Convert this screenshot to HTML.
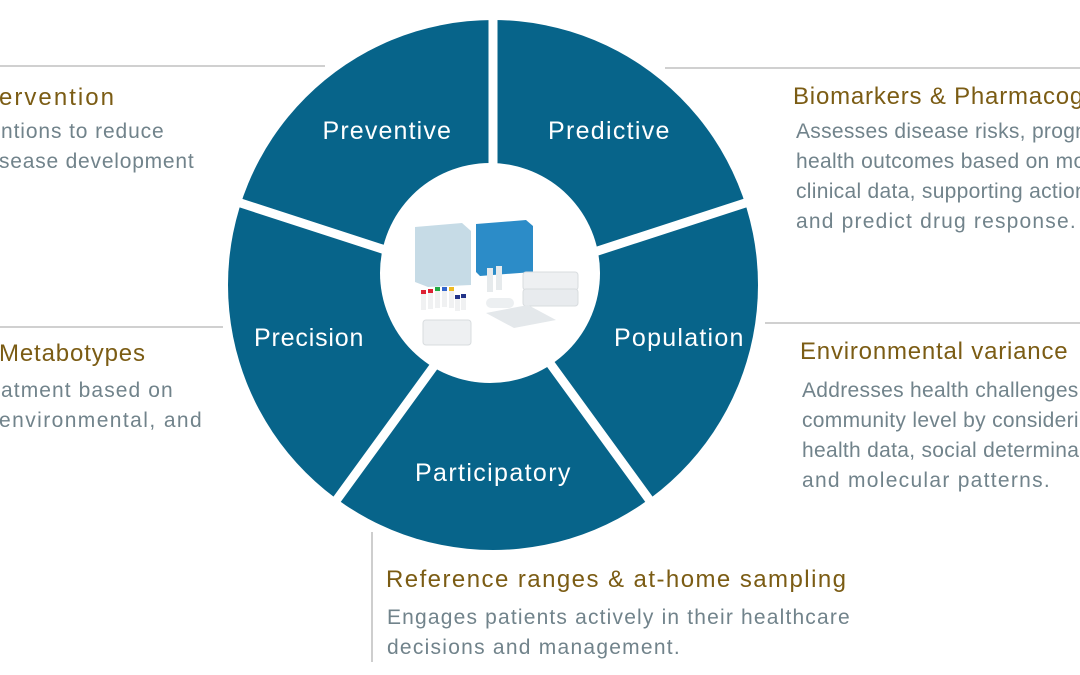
<!DOCTYPE html>
<html><head><meta charset="utf-8"><style>
html,body{margin:0;padding:0;background:#fff;width:1080px;height:675px;overflow:hidden}
svg{display:block}
.t{font-family:"Liberation Sans",sans-serif;fill:#7b5c14;font-size:24px}
.b{font-family:"Liberation Sans",sans-serif;fill:#71838b;font-size:21px;letter-spacing:0.3px}
.s{font-family:"Liberation Sans",sans-serif;fill:#fff;font-size:25px;letter-spacing:0.6px}
</style></head><body>
<svg width="1080" height="675" viewBox="0 0 1080 675" xmlns="http://www.w3.org/2000/svg">
<g stroke="#b4b4b4" stroke-width="1.3">
<line x1="0" y1="66" x2="325" y2="66"/>
<line x1="665" y1="68" x2="1080" y2="68"/>
<line x1="0" y1="327" x2="223" y2="327"/>
<line x1="765" y1="323" x2="1080" y2="323"/>
<line x1="372" y1="532" x2="372" y2="662"/>
</g>
<circle cx="493" cy="285" r="265" fill="#07648a"/>
<g stroke="#fff" stroke-width="9">
<line x1="493" y1="285" x2="493" y2="10"/>
<line x1="493" y1="285" x2="770" y2="195"/>
<line x1="493" y1="285" x2="664" y2="520"/>
<line x1="493" y1="285" x2="322" y2="520"/>
<line x1="493" y1="285" x2="216" y2="195"/>
</g>
<circle cx="490" cy="273" r="110" fill="#fff"/>
<polygon points="415,227 462,223 471,231 471,285 428,287 415,282" fill="#c6dbe6"/>
<polygon points="476,224 526,220 533,226 533,272 480,276 476,272" fill="#2c8cc8"/>
<rect x="523" y="272" width="55" height="18" rx="3" fill="#eef0f2" stroke="#d8dcdf"/>
<rect x="523" y="289" width="55" height="17" rx="3" fill="#e8ebee" stroke="#d8dcdf"/>
<rect x="423" y="320" width="48" height="25" rx="3" fill="#eef0f2" stroke="#d8dcdf"/>
<polygon points="486,313 528,305 556,320 514,328" fill="#e4e8eb"/>
<rect x="486" y="298" width="28" height="10" rx="5" fill="#eceff1"/>
<rect x="487" y="268" width="6" height="24" fill="#e6eaec"/>
<rect x="496" y="266" width="6" height="24" fill="#e6eaec"/>
<g fill="#f0f1f2"><rect x="421" y="292" width="5" height="18"/><rect x="428" y="291" width="5" height="18"/><rect x="435" y="290" width="5" height="18"/><rect x="442" y="289" width="5" height="18"/><rect x="449" y="290" width="5" height="18"/><rect x="455" y="297" width="5" height="14"/><rect x="461" y="296" width="5" height="14"/></g>
<g><rect x="421" y="290" width="5" height="4" fill="#d23"/><rect x="428" y="289" width="5" height="4" fill="#d23"/><rect x="435" y="287" width="5" height="4" fill="#2a4"/><rect x="442" y="287" width="5" height="4" fill="#36c"/><rect x="449" y="287" width="5" height="4" fill="#eb2"/><rect x="455" y="295" width="5" height="4" fill="#238"/><rect x="461" y="294" width="5" height="4" fill="#238"/></g>
<text class="s" x="387" y="139" text-anchor="middle" textLength="129">Preventive</text>
<text class="s" x="609" y="139" text-anchor="middle" textLength="122">Predictive</text>
<text class="s" x="309" y="346" text-anchor="middle" textLength="110">Precision</text>
<text class="s" x="679" y="346" text-anchor="middle" textLength="130">Population</text>
<text class="s" x="493" y="481" text-anchor="middle" textLength="156">Participatory</text>
<text class="t" x="-1" y="105" textLength="115">ervention</text>
<text class="b" x="1" y="138" textLength="163">ntions to reduce</text>
<text class="b" x="-1" y="168" textLength="195">sease development</text>
<text class="t" x="-1" y="361" textLength="146">Metabotypes</text>
<text class="b" x="1" y="397" textLength="172">atment based on</text>
<text class="b" x="-1" y="427" textLength="203">environmental, and</text>
<text class="t" x="793" y="104" style="letter-spacing:0.8px">Biomarkers &amp; Pharmacogenomics</text>
<text class="b" x="796" y="138">Assesses disease risks, prognoses</text>
<text class="b" x="796" y="168">health outcomes based on molecular</text>
<text class="b" x="796" y="198">clinical data, supporting actions</text>
<text class="b" x="796" y="228" textLength="280">and predict drug response.</text>
<text class="t" x="800" y="359" style="letter-spacing:0.8px">Environmental variance</text>
<text class="b" x="802" y="397">Addresses health challenges at</text>
<text class="b" x="802" y="427">community level by considering</text>
<text class="b" x="802" y="457">health data, social determinants</text>
<text class="b" x="802" y="487" textLength="248">and molecular patterns.</text>
<text class="t" x="386" y="587" textLength="460">Reference ranges &amp; at-home sampling</text>
<text class="b" x="387" y="624" textLength="463">Engages patients actively in their healthcare</text>
<text class="b" x="387" y="654" textLength="293">decisions and management.</text>
</svg>
</body></html>
